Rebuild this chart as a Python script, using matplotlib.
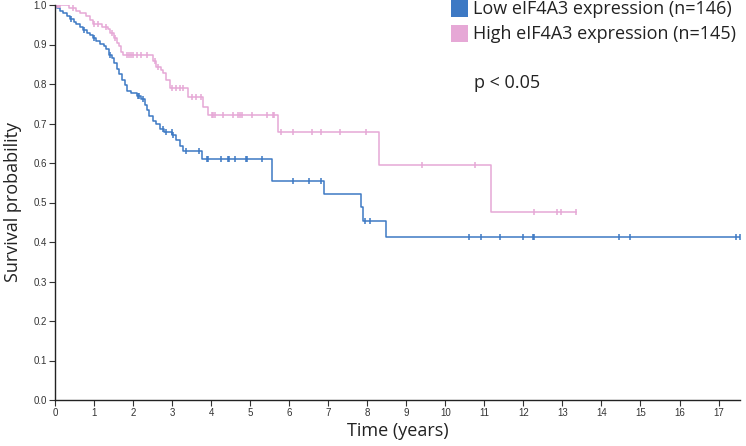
import numpy as np
import matplotlib
matplotlib.use("Agg")
import matplotlib.pyplot as plt
from matplotlib.patches import Rectangle

# Low eIF4A3 expression: event times (years) and survival after each step
low_times = [0.05, 0.12, 0.2, 0.3, 0.38, 0.48, 0.55, 0.65, 0.72, 0.82, 0.9, 0.98,
             1.05, 1.15, 1.25, 1.3, 1.38, 1.45, 1.5, 1.58, 1.65, 1.72, 1.8, 1.85,
             1.95, 2.1, 2.2, 2.3, 2.35, 2.42, 2.5, 2.6, 2.7, 2.8, 3.0, 3.1, 3.2,
             3.29, 3.76, 5.55, 6.89, 7.84, 7.9, 8.47]
low_surv = [0.993, 0.986, 0.979, 0.972, 0.965, 0.958, 0.951, 0.944, 0.937, 0.930,
            0.923, 0.916, 0.909, 0.902, 0.895, 0.888, 0.874, 0.867, 0.853, 0.839,
            0.825, 0.811, 0.797, 0.783, 0.776, 0.769, 0.762, 0.748, 0.734, 0.720,
            0.706, 0.699, 0.685, 0.678, 0.671, 0.657, 0.643, 0.630, 0.610, 0.555,
            0.522, 0.488, 0.453, 0.412]
low_censor = [0.4, 0.75, 1.0, 1.4, 2.12, 2.16, 2.25, 2.77, 2.85, 2.99, 3.02, 3.36,
              3.7, 3.89, 3.92, 4.25, 4.42, 4.46, 4.6, 4.89, 4.91, 5.31, 6.09, 6.52,
              6.81, 7.93, 8.07, 10.61, 10.91, 11.41, 12.0, 12.24, 12.27, 14.44,
              14.74, 17.45, 17.54]

# High eIF4A3 expression
high_times = [0.35, 0.55, 0.65, 0.8, 0.9, 0.98, 1.2, 1.35, 1.42, 1.5, 1.58, 1.65,
              1.7, 1.75, 2.5, 2.6, 2.72, 2.77, 2.85, 2.95, 3.42, 3.8, 3.93, 5.72,
              8.31, 11.17]
high_surv = [0.993, 0.986, 0.979, 0.972, 0.962, 0.952, 0.945, 0.938, 0.928, 0.917,
             0.903, 0.895, 0.882, 0.873, 0.858, 0.844, 0.835, 0.827, 0.810, 0.789,
             0.768, 0.743, 0.722, 0.678, 0.595, 0.477]
high_censor = [0.05, 0.08, 0.1, 0.13, 0.45, 1.0, 1.1, 1.3, 1.45, 1.55, 1.85, 1.9,
               1.95, 2.0, 2.1, 2.2, 2.35, 2.55, 2.65, 3.0, 3.1, 3.2, 3.28, 3.5, 3.6,
               3.75, 4.02, 4.06, 4.1, 4.31, 4.55, 4.7, 4.75, 4.79, 5.04, 5.43, 5.58,
               5.62, 5.79, 6.11, 6.58, 6.82, 7.3, 7.96, 9.41, 10.77, 12.27, 12.85,
               12.97, 13.35]

labels = ["Low eIF4A3 expression (n=146)", "High eIF4A3 expression (n=145)"]
colors = ["#3d79c4", "#e6a8d6"]
x_ticks = list(range(0, 18))
y_ticks = [0.0, 0.1, 0.2, 0.3, 0.4, 0.5, 0.6, 0.7, 0.8, 0.9, 1.0]

tick_font = ["Liberation Sans", "DejaVu Sans"]
label_font = ["Open Sans", "DejaVu Sans"]


def km_curve(ax, times, surv, censor, color):
    t = np.concatenate([[0.0], times, [max(censor[-1], times[-1])]])
    s = np.concatenate([[1.0], surv, [surv[-1]]])
    ax.step(t, s, where="post", color=color, lw=1.1)
    idx = np.searchsorted(t, censor, side="right") - 1
    ax.plot(censor, s[idx], linestyle="none", marker="|", markersize=5,
            markeredgewidth=1.1, color=color)


fig = plt.figure(figsize=(7.46, 4.46), dpi=100)
ax = fig.add_axes([55 / 746, 46 / 446, 685 / 746, 395 / 446])

km_curve(ax, low_times, low_surv, low_censor, colors[0])
km_curve(ax, high_times, high_surv, high_censor, colors[1])

ax.set_xlim(0, 17.55)
ax.set_ylim(0, 1.0)
ax.set_xticks(x_ticks)
ax.set_yticks(y_ticks)
ax.set_xticklabels([str(v) for v in x_ticks], family=tick_font, fontsize=7, color="#333333")
ax.set_yticklabels([f"{v:.1f}" for v in y_ticks], family=tick_font, fontsize=7, color="#333333")
ax.tick_params(direction="out", length=4, width=0.8, color="#333333", pad=2)
for side in ["top", "right"]:
    ax.spines[side].set_visible(False)
for side in ["left", "bottom"]:
    ax.spines[side].set_linewidth(1.0)
    ax.spines[side].set_color("#222222")
ax.spines["left"].set_bounds(0, 1.0)

ax.set_xlabel("Time (years)", family=label_font, fontsize=13, labelpad=3, color="#222222")
ax.set_ylabel("Survival probability", family=label_font, fontsize=13, labelpad=8, color="#222222")

# legend squares and text placed in pixel coordinates of the figure
for i, (lab, col) in enumerate(zip(labels, colors)):
    y_top = 446 - (0 if i == 0 else 25)
    fig.patches.append(Rectangle((451 / 746, (y_top - 17) / 446), 17 / 746, 17 / 446,
                                 transform=fig.transFigure, facecolor=col, edgecolor="none"))
    fig.text(473 / 746, (y_top - 9) / 446, lab, family=label_font, fontsize=13,
             va="center", ha="left", color="#222222")

fig.text(474 / 746, (446 - 83) / 446, "p < 0.05", family=label_font, fontsize=13,
         va="center", ha="left", color="#222222")

fig.savefig("out.png", dpi=100)
